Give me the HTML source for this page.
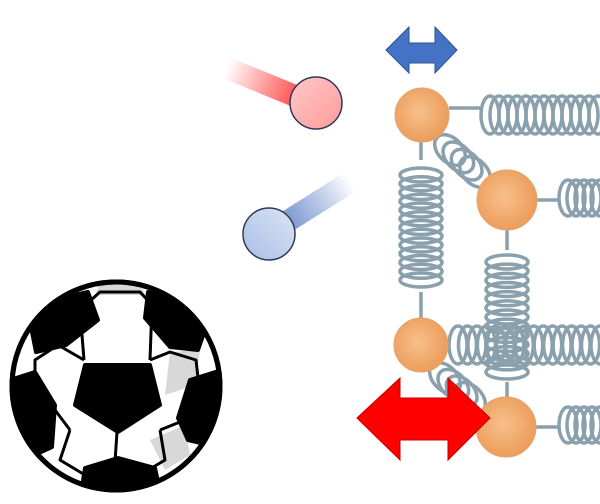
<!DOCTYPE html>
<html><head><meta charset="utf-8"><style>html,body{margin:0;padding:0;background:#fff;width:600px;height:504px;overflow:hidden}</style></head>
<body>
<svg id="s" width="600" height="504" viewBox="0 0 600 504" xmlns="http://www.w3.org/2000/svg">
<defs>
<linearGradient id="rt" x1="227" y1="68" x2="300" y2="98" gradientUnits="userSpaceOnUse"><stop offset="0" stop-color="#ff4040" stop-opacity="0"/><stop offset="1" stop-color="#ff4a4a"/></linearGradient>
<linearGradient id="bt" x1="350" y1="182" x2="275" y2="228" gradientUnits="userSpaceOnUse"><stop offset="0" stop-color="#4a6fc0" stop-opacity="0"/><stop offset="1" stop-color="#6a8ccc"/></linearGradient>
<linearGradient id="rb" x1="0" y1="0" x2="1" y2="1"><stop offset="0" stop-color="#ffc8c8"/><stop offset="1" stop-color="#ff9a9a"/></linearGradient>
<linearGradient id="bb" x1="1" y1="0" x2="0" y2="1"><stop offset="0" stop-color="#dbe4f4"/><stop offset="1" stop-color="#a9bfe6"/></linearGradient>
<radialGradient id="org" cx="0.45" cy="0.45" r="0.6"><stop offset="0" stop-color="#f8c08a"/><stop offset="1" stop-color="#ea9a58"/></radialGradient>
</defs>
<line x1="227" y1="68" x2="300" y2="98" stroke="url(#rt)" stroke-width="22"/>
<circle cx="316" cy="103" r="26" fill="url(#rb)" stroke="#2f3a55" stroke-width="1.5"/>
<line x1="350" y1="182" x2="280" y2="226" stroke="url(#bt)" stroke-width="22"/>
<circle cx="269" cy="234" r="26" fill="url(#bb)" stroke="#2f3a55" stroke-width="1.5"/>
<polygon points="386,50 409,27 409,43 435,43 435,27 457,50 435,73 435,63 409,63 409,73" fill="#4472c4" stroke="#2f528f" stroke-width="1"/>
<g id="springs" fill="none" stroke="#8aa0ac" stroke-width="3.5"></g>
<g id="balls"></g>
<polygon points="357,418 400,378 400,398 448,398 448,378 490,418 448,460 448,440 400,440 400,460" fill="#ff0000" stroke="#c00000" stroke-width="1"/>
<!-- soccer ball -->
<g>
<circle cx="116" cy="386" r="104" fill="#fff" stroke="#000" stroke-width="5"/>
<clipPath id="bc"><circle cx="116" cy="386" r="102"/></clipPath>
<g clip-path="url(#bc)">
<g fill="#d8d8d8"><path d="M150,440 L185,425 L190,455 L165,470Z"/><path d="M170,352 L200,350 L195,385 L165,395Z"/><path d="M100,282 L140,282 L145,295 L95,295Z"/></g>
<g fill="none" stroke="#000" stroke-width="3" stroke-linejoin="round">
<polyline points="84,360 80,310 100,292 140,292 152,305 150,360"/>
<polyline points="84,360 58,345 35,360 35,395 55,410 70,430"/>
<polyline points="150,360 170,352 196,360 200,395 185,420 160,430"/>
<polyline points="70,430 60,460 85,475 115,462 140,475 165,460 160,430"/>
<polyline points="115,462 117,432"/>
</g>
<g fill="#000" stroke="#000" stroke-width="4" stroke-linejoin="round">
<polygon points="85,365 150,365 160,405 118,432 75,405"/>
<polygon points="30,322 60,298 88,292 98,320 66,345 36,352"/>
<polygon points="148,292 178,300 205,330 198,350 170,347 145,318"/>
<polygon points="10,380 35,372 55,405 52,447 30,457 10,440"/>
<polygon points="222,370 190,380 178,418 188,440 222,448"/>
<polygon points="85,468 118,458 155,468 162,500 80,500"/>
</g>
</g>
<circle cx="116" cy="386" r="104" fill="none" stroke="#000" stroke-width="5"/>
</g>
</svg>
<script>
var sp=document.getElementById('springs'),bl=document.getElementById('balls');
var NS='http://www.w3.org/2000/svg';
function el(t,a,p){var e=document.createElementNS(NS,t);for(var k in a)e.setAttribute(k,a[k]);p.appendChild(e);return e;}
function hs(x0,x1,y,h,n){for(var i=0;i<n;i++){var x=x0+(x1-x0)*i/(n-1);el('ellipse',{cx:x,cy:y,rx:9,ry:h},sp);}}
function vs(y0,y1,x,w,n){for(var i=0;i<n;i++){var y=y0+(y1-y0)*i/(n-1);el('ellipse',{cx:x,cy:y,rx:w,ry:7},sp);}}
function ds(x0,y0,x1,y1,n){for(var i=0;i<n;i++){var x=x0+(x1-x0)*i/(n-1),y=y0+(y1-y0)*i/(n-1);el('ellipse',{cx:x,cy:y,rx:12,ry:18,transform:'rotate(-45 '+x+' '+y+')'},sp);}}
hs(490,598,115,19,13);hs(568,600,198,18,5);hs(458,600,345,19,16);hs(568,600,425,18,5);
vs(175,280,421,21,13);vs(262,372,507,21,13);
ds(450,150,475,172,4);ds(445,378,470,398,4);
[[449,108,480,108],[421,142,421,160],[421,292,421,318],[507,230,507,250],[507,382,507,398],[537,200,560,200],[536,427,560,427],[448,345,450,345]].forEach(function(l){el('line',{x1:l[0],y1:l[1],x2:l[2],y2:l[3]},sp);});
[[422,115,27],[507,200,30],[421,345,27],[506,427,30]].forEach(function(b){el('circle',{cx:b[0],cy:b[1],r:b[2],fill:'url(#org)',stroke:'#e8a46c','stroke-width':1},bl);});
</script>
</body></html>
